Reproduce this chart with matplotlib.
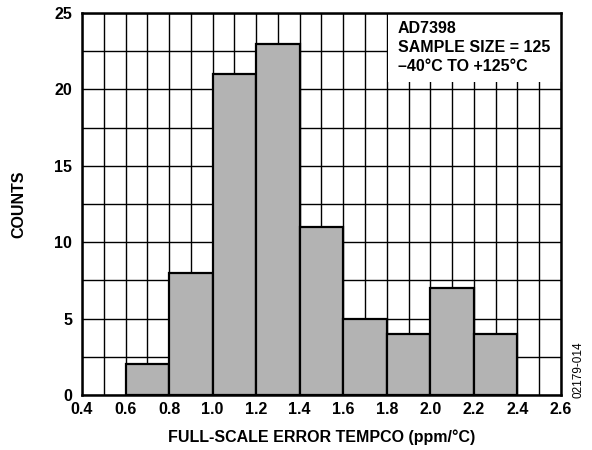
import numpy as np
import matplotlib
matplotlib.use('Agg')
from matplotlib import pyplot as plt
from matplotlib.patches import Rectangle

plt.rcParams['font.family'] = ['Liberation Sans', 'DejaVu Sans']
plt.rcParams['font.weight'] = 'bold'

# histogram bins (left edges) and counts
bin_left = [0.6, 0.8, 1.0, 1.2, 1.4, 1.6, 1.8, 2.0, 2.2]
counts = [2, 8, 21, 23, 11, 5, 4, 7, 4]
bin_width = 0.2
x_ticks = [0.4, 0.6, 0.8, 1.0, 1.2, 1.4, 1.6, 1.8, 2.0, 2.2, 2.4, 2.6]
y_ticks = [0, 5, 10, 15, 20, 25]

fig = plt.figure(figsize=(5.92, 4.5), dpi=100)
ax = fig.add_axes([82/592, 1-395/450, (561-82)/592, (395-13)/450])

ax.bar(bin_left, counts, width=bin_width, align='edge', color='#b3b3b3',
       edgecolor='black', linewidth=1.6, zorder=3)

ax.set_xlim(0.4, 2.6)
ax.set_ylim(0, 25)
ax.set_xticks(x_ticks)
ax.set_xticklabels(['%.1f' % v for v in x_ticks])
ax.set_yticks(y_ticks)
ax.set_xticks(np.arange(0.5, 2.6, 0.2), minor=True)
ax.set_yticks([2.5, 7.5, 12.5, 17.5, 22.5], minor=True)
ax.grid(True, which='both', color='black', linewidth=1.0, zorder=1)
ax.set_axisbelow(True)
ax.tick_params(which='both', length=0, labelsize=11.5)
ax.tick_params(axis='y', pad=7)
ax.tick_params(axis='x', pad=5)
for s in ax.spines.values():
    s.set_linewidth(1.8)
    s.set_zorder(6)

ax.set_xlabel('FULL-SCALE ERROR TEMPCO (ppm/°C)', fontsize=11.5, fontweight='bold', labelpad=9)
ax.set_ylabel('COUNTS', fontsize=11.5, fontweight='bold', labelpad=20)

# white area behind the note, top right
ax.add_patch(Rectangle((1.806, 20.5), 0.8, 4.5, facecolor='white', edgecolor='none', zorder=4))
ax.text(1.85, 24.45, 'AD7398\nSAMPLE SIZE = 125\n–40°C TO +125°C', fontsize=11.5,
        fontweight='bold', va='top', ha='left', linespacing=1.32, zorder=5)

fig.text(578/592, 1-370/450, '02179-014', rotation=90, fontsize=8.5, fontweight='normal',
         ha='center', va='center')

fig.savefig('out.png', dpi=100)
